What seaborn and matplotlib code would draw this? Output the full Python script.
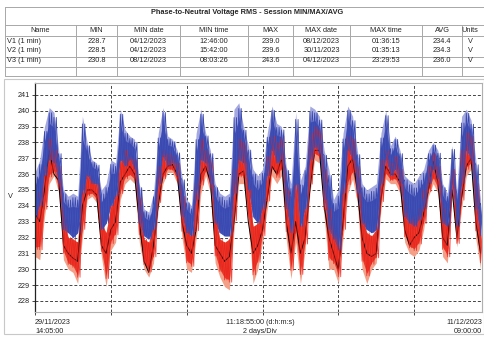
import numpy as np
import pandas as pd
import matplotlib.pyplot as plt
import seaborn as sns
from matplotlib.lines import Line2D
from matplotlib.patches import Rectangle

# time axis: hours since 29/11/2023 14:05:00, one reading every 3 h
hours = np.arange(0, 283, 3)
span_h = 282.92

# V3 (blue) band
v3_hi = [236.1, 236.9, 239.0, 240.2, 239.9, 237.5, 235.0, 234.6, 234.8, 234.6, 239.65, 238.0, 236.9, 236.7, 235.0, 235.4,
         236.9, 236.7, 240.1, 238.8, 238.4, 238.2, 235.4, 233.8, 233.6, 234.8, 238.6, 240.2, 238.4, 238.2, 237.5, 235.9,
         234.4, 234.0, 238.6, 240.1, 238.6, 237.5, 235.4, 234.8, 234.6, 234.8, 240.1, 240.5, 239.0, 237.8, 236.3, 235.9,
         236.3, 238.6, 240.3, 239.2, 239.0, 236.5, 235.4, 239.9, 235.6, 236.5, 240.3, 240.1, 239.65, 237.5, 236.3, 234.4,
         235.0, 238.6, 240.3, 239.65, 237.5, 235.4, 235.0, 235.2, 235.4, 238.6, 240.0, 237.8, 238.4, 237.5, 235.9, 235.6,
         235.4, 235.9, 236.3, 237.5, 238.0, 237.5, 235.4, 234.8, 237.8, 235.0, 239.65, 240.1, 239.4, 236.9, 234.4]
v3_lo = [233.3, 234.0, 235.9, 236.9, 236.7, 235.4, 232.5, 232.3, 232.0, 232.3, 234.8, 235.9, 235.4, 235.4, 232.5, 232.9,
         234.0, 234.6, 236.9, 236.5, 236.9, 236.3, 232.9, 232.1, 231.9, 232.5, 235.4, 237.1, 236.5, 236.7, 235.9, 233.3,
         232.3, 232.1, 234.4, 236.9, 236.7, 235.4, 232.9, 232.3, 232.1, 232.1, 234.8, 236.9, 236.7, 235.0, 233.3, 232.9,
         233.8, 235.9, 237.5, 236.7, 236.9, 233.8, 232.3, 235.4, 232.7, 233.8, 236.9, 237.7, 237.3, 234.4, 232.5, 231.9,
         231.2, 234.8, 237.5, 236.9, 234.8, 232.9, 232.5, 232.3, 232.5, 235.4, 236.9, 235.9, 236.3, 235.4, 233.3, 232.9,
         232.7, 233.1, 233.8, 235.4, 236.3, 235.7, 232.9, 232.7, 235.4, 232.7, 235.4, 237.5, 236.9, 233.8, 232.1]

# V2 (red) band
v2_hi = [233.8, 234.8, 236.5, 238.2, 237.5, 236.5, 233.3, 232.0, 231.9, 231.7, 235.4, 236.0, 235.6, 235.4, 232.9, 232.3,
         234.0, 234.8, 236.9, 237.5, 237.1, 236.9, 234.8, 231.9, 231.7, 232.9, 236.5, 237.5, 237.3, 237.1, 236.7, 234.6,
         232.7, 232.3, 235.4, 238.2, 237.5, 236.9, 233.3, 231.9, 231.7, 231.9, 236.3, 238.2, 238.0, 235.4, 232.7, 232.9,
         234.4, 237.1, 238.4, 238.0, 238.4, 235.0, 232.9, 235.4, 232.9, 233.8, 238.6, 239.0, 238.8, 236.3, 233.8, 232.3,
         231.9, 235.4, 238.4, 238.2, 236.5, 233.3, 232.3, 232.1, 232.5, 236.9, 237.5, 236.7, 237.1, 236.3, 234.0, 233.3,
         233.3, 233.8, 235.0, 236.5, 237.3, 236.5, 233.8, 232.9, 236.3, 232.9, 237.5, 238.6, 238.4, 235.4, 232.7]
v2_lo = [230.8, 230.6, 233.3, 235.4, 235.9, 234.8, 230.6, 230.0, 229.8, 229.1, 232.0, 234.4, 234.6, 234.2, 230.8, 228.9,
         231.2, 231.7, 234.4, 235.4, 235.7, 235.4, 231.7, 230.0, 229.5, 230.4, 233.8, 235.4, 236.1, 236.1, 235.4, 232.0,
         230.0, 229.8, 231.9, 234.8, 235.9, 234.8, 230.4, 229.5, 228.9, 228.7, 232.5, 235.4, 235.4, 232.9, 229.1, 230.0,
         231.7, 233.8, 235.9, 235.4, 235.9, 231.9, 229.4, 231.7, 229.1, 231.2, 234.8, 236.9, 236.7, 233.3, 230.0, 230.0,
         229.1, 232.0, 234.8, 235.7, 234.2, 230.0, 229.1, 230.0, 230.4, 233.8, 235.7, 235.4, 235.4, 234.8, 231.7, 231.0,
         230.8, 231.2, 232.5, 234.6, 235.4, 234.8, 230.8, 230.4, 234.6, 231.4, 233.8, 235.9, 236.3, 231.9, 230.0]

# V1 (black)
v1 = [233.5, 233.0, 235.0, 237.5, 236.0, 235.6, 231.5, 231.0, 230.7, 230.5, 234.0, 235.0, 235.0, 234.7, 231.5, 231.0,
      232.5, 233.0, 235.5, 236.0, 236.5, 236.0, 233.0, 230.5, 229.8, 231.5, 234.0, 236.0, 236.5, 236.6, 236.0, 233.0,
      231.5, 231.0, 232.5, 236.0, 236.5, 235.5, 231.5, 231.0, 230.5, 230.8, 233.0, 236.0, 236.2, 233.0, 231.0, 231.5,
      232.5, 234.5, 236.5, 236.0, 237.0, 233.0, 231.0, 233.0, 231.0, 232.0, 235.0, 237.5, 237.5, 234.0, 232.0, 231.0,
      230.0, 233.0, 236.5, 237.0, 235.0, 232.0, 231.0, 230.8, 231.0, 234.5, 236.5, 236.0, 236.0, 235.5, 232.5, 231.5,
      232.0, 232.3, 233.5, 235.0, 236.8, 235.5, 232.0, 231.5, 235.0, 232.0, 234.5, 236.5, 237.0, 233.0, 231.0]

# summary table
title = "Phase-to-Neutral Voltage RMS - Session MIN/MAX/AVG"
headers = ["Name", "MIN", "MIN date", "MIN time", "MAX", "MAX date", "MAX time", "AVG", "Units"]
rows = [["V1 (1 min)", "228.7", "04/12/2023", "12:46:00", "239.0", "08/12/2023", "01:36:15", "234.4", "V"],
        ["V2 (1 min)", "228.5", "04/12/2023", "15:42:00", "239.6", "30/11/2023", "01:35:13", "234.3", "V"],
        ["V3 (1 min)", "230.8", "08/12/2023", "08:03:26", "243.6", "04/12/2023", "23:29:53", "236.0", "V"]]
y_ticks = list(range(228, 242))

W, H = 485, 339
def fx(x):
    return x / W
def fy(y):
    return 1 - y / H

sns.set_style("white")
plt.rcParams['font.family'] = ['Liberation Sans', 'DejaVu Sans']

fig = plt.figure(figsize=(W / 100, H / 100), dpi=100)

# ---- table ----
gray = "#a8a8a8"
col_x = [5, 76, 117, 180, 248, 293, 350, 422, 462, 490]
for y in [6.7, 25, 36, 57, 66.7, 76]:
    fig.add_artist(Line2D([fx(5), fx(490)], [fy(y), fy(y)], color=gray, lw=0.7))
fig.add_artist(Line2D([fx(5), fx(5)], [fy(6.7), fy(76)], color=gray, lw=0.7))
for x in col_x[1:-1]:
    fig.add_artist(Line2D([fx(x), fx(x)], [fy(25), fy(76)], color=gray, lw=0.7))
fig.text(fx(247), fy(12.5), title, fontsize=5.3, fontweight="bold", ha="center", va="center")
for i, h in enumerate(headers):
    fig.text(fx((col_x[i] + col_x[i + 1]) / 2 - (6 if i == 8 else 0)), fy(31), h,
             fontsize=5.3, ha="center", va="center")
for r, row in enumerate(rows):
    yy = 41.5 + r * 9.3
    for i, val in enumerate(row):
        if i == 0:
            fig.text(fx(7), fy(yy), val, fontsize=5.3, ha="left", va="center")
        else:
            fig.text(fx((col_x[i] + col_x[i + 1]) / 2 - (6 if i == 8 else 0)), fy(yy), val,
                     fontsize=5.3, ha="center", va="center")

# panel border
fig.add_artist(Rectangle((fx(4), fy(334)), fx(484) - fx(4), fy(79) - fy(334),
                         fill=False, ec="#c8c8c8", lw=0.8))

# ---- chart ----
ax = fig.add_axes([fx(35), fy(312), fx(482) - fx(35), fy(83) - fy(312)])

def zigzag(t, hi, lo, flip):
    t = np.asarray(t, float)
    a, b = (np.asarray(lo), np.asarray(hi)) if flip else (np.asarray(hi), np.asarray(lo))
    xs = np.empty(2 * len(t))
    ys = np.empty(2 * len(t))
    xs[0::2], xs[1::2] = t, t + 1.5
    ys[0::2], ys[1::2] = a, b
    return pd.DataFrame({"t": xs, "v": ys})

hi2, lo2 = np.array(v2_hi), np.array(v2_lo)
hi3, lo3 = np.array(v3_hi), np.array(v3_lo)

# V2 red with salmon lows
ax.fill_between(hours, lo2, hi2, color="#f4a088", lw=0)
ax.fill_between(hours, lo2 + 0.2 * (hi2 - lo2), hi2, color="#ec3a2c", lw=0)

# V1 black (mostly hidden under the other phases)
sns.lineplot(x=hours, y=v1, sort=False, estimator=None, color="black", lw=0.7, ax=ax)

for flip in (False, True):
    d = zigzag(hours, hi2, lo2 + 0.15 * (hi2 - lo2), flip)
    sns.lineplot(data=d, x="t", y="v", sort=False, estimator=None, color="#e8221c", lw=0.6, alpha=0.8, ax=ax)

# V3 blue with lavender highs
ax.fill_between(hours, lo3, hi3, color="#a3a8e0", lw=0)
ax.fill_between(hours, lo3, hi3 - 0.3 * (hi3 - lo3), color="#4152b8", lw=0)
for flip in (False, True):
    d = zigzag(hours, hi3 - 0.1 * (hi3 - lo3), lo3, flip)
    sns.lineplot(data=d, x="t", y="v", sort=False, estimator=None, color="#3a49b0", lw=0.6, ax=ax)

ax.set_xlim(0, span_h)
ax.set_ylim(227.3, 241.75)
ax.set_yticks(y_ticks)
ax.set_yticklabels([str(v) for v in y_ticks], fontsize=5.2)
ax.set_xticks(np.arange(0, span_h, 48))
ax.set_xticklabels([])
ax.set_axisbelow(True)
ax.grid(True, color="#444444", lw=0.7, ls=(0, (3, 2)))
ax.tick_params(axis="y", length=2, width=0.6, pad=1.5, left=True)
ax.tick_params(axis="x", length=2, width=0.6, bottom=True)
ax.set_xlabel("")
ax.set_ylabel("")
for s in ["top", "right", "bottom"]:
    ax.spines[s].set_color("#b0b0b0")
    ax.spines[s].set_linewidth(0.8)
ax.spines["left"].set_color("#222222")
ax.spines["left"].set_linewidth(0.9)

fig.text(fx(10), fy(197), "V", fontsize=5.3, ha="center", va="center")
fig.text(fx(35), fy(327), "29/11/2023\n14:05:00", fontsize=5.2, ha="left", va="center", linespacing=1.3)
fig.text(fx(260), fy(327), "11:18:55:00 (d:h:m:s)\n2 days/Div", fontsize=5.2, ha="center", va="center",
         linespacing=1.3)
fig.text(fx(482), fy(327), "11/12/2023\n09:00:00", fontsize=5.2, ha="right", va="center", linespacing=1.3,
         multialignment="right")

fig.savefig("out.png", dpi=100)
